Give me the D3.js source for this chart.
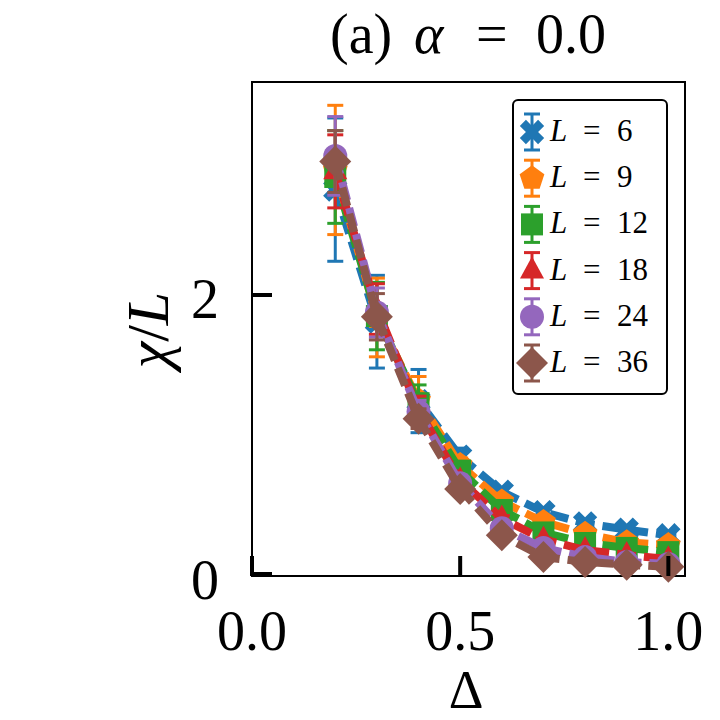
<!DOCTYPE html>
<html><head><meta charset="utf-8">
<script src="https://cdn.jsdelivr.net/npm/d3@7"></script>
<style>body{margin:0;background:#fff}svg{display:block}text{font-family:"Liberation Serif","DejaVu Serif",serif;fill:#000}</style>
</head><body><svg id="c" width="720" height="720"></svg>
<script>
const deltas = [0.2, 0.3, 0.4, 0.5, 0.6, 0.7, 0.8, 0.9, 1.0];
const sizes = [6, 9, 12, 18, 24, 36];
const chiL6  = [2.75, 1.81, 1.245, 0.85, 0.60, 0.455, 0.375, 0.33, 0.29];
const err6   = [0.51, 0.33, 0.225, 0.06, 0.03, 0.02, 0.015, 0.01, 0.01];
const chiL9  = [2.89, 1.84, 1.25, 0.79, 0.53, 0.385, 0.30, 0.24, 0.22];
const err9   = [0.46, 0.28, 0.17, 0.05, 0.03, 0.02, 0.01, 0.01, 0.01];
const chiL12 = [2.84, 1.85, 1.23, 0.75, 0.47, 0.31, 0.235, 0.20, 0.17];
const err12  = [0.33, 0.24, 0.13, 0.04, 0.02, 0.01, 0.01, 0.01, 0.01];
const chiL18 = [2.88, 1.90, 1.18, 0.68, 0.41, 0.26, 0.185, 0.15, 0.12];
const err18  = [0.26, 0.18, 0.10, 0.03, 0.02, 0.01, 0.01, 0.01, 0.01];
const chiL24 = [2.99, 1.875, 1.17, 0.66, 0.34, 0.20, 0.135, 0.10, 0.085];
const err24  = [0.28, 0.175, 0.08, 0.03, 0.015, 0.01, 0.01, 0.01, 0.01];
const chiL36 = [2.95, 1.845, 1.12, 0.62, 0.29, 0.135, 0.10, 0.08, 0.065];
const err36  = [0.22, 0.165, 0.07, 0.03, 0.015, 0.01, 0.01, 0.01, 0.01];
const xTicks = [0.0, 0.5, 1.0];
const xTickLabels = ["0.0", "0.5", "1.0"];
const yTicks = [0, 2];
const yTickLabels = ["0", "2"];
const colors = ["#1f77b4", "#ff7f0e", "#2ca02c", "#d62728", "#9467bd", "#8c564b"];
const markers = ["X", "pentagon", "square", "triangle", "circle", "diamond"];

const values = [chiL6, chiL9, chiL12, chiL18, chiL24, chiL36];
const errors = [err6, err9, err12, err18, err24, err36];
const series = sizes.map((L, i) => ({L, color: colors[i], marker: markers[i],
  pts: deltas.map((d, j) => ({x: d, y: values[i][j], e: errors[i][j]}))}));

const svg = d3.select("#c");
const L = 252, R = 685, T = 82, B = 576;
const x = d3.scaleLinear().domain([0, 1.04]).range([L, R]);
const y = d3.scaleLinear().domain([0, 3.516]).range([B, T]);

function markerPath(m) {
  if (m === "X") {
    const r = 4.3, p = d3.path();
    const pts = [[-3*r,-r],[-r,-r],[-r,-3*r],[r,-3*r],[r,-r],[3*r,-r],[3*r,r],[r,r],[r,3*r],[-r,3*r],[-r,r],[-3*r,r]];
    const c = Math.SQRT1_2;
    pts.forEach(([a,b],k) => { const X = (a-b)*c, Y = (a+b)*c; k ? p.lineTo(X,Y) : p.moveTo(X,Y); });
    p.closePath(); return p.toString();
  }
  if (m === "pentagon") {
    const r = 13, p = d3.path();
    for (let k = 0; k < 5; k++) { const a = -Math.PI/2 + k*2*Math.PI/5; const X = r*Math.cos(a), Y = r*Math.sin(a); k ? p.lineTo(X,Y) : p.moveTo(X,Y); }
    p.closePath(); return p.toString();
  }
  if (m === "square") return "M-11,-11H11V11H-11Z";
  if (m === "triangle") return "M0,-14L12,8H-12Z";
  if (m === "circle") { const p = d3.path(); p.arc(0,0,12,0,2*Math.PI); return p.toString(); }
  if (m === "diamond") return "M0,-16L16,0L0,16L-16,0Z";
}

// frame
svg.append("rect").attr("x", L).attr("y", T).attr("width", R-L).attr("height", B-T)
  .attr("fill", "none").attr("stroke", "#000").attr("stroke-width", 2);

const plot = svg.append("g");
const line = d3.line().x(d => x(d.x)).y(d => y(d.y));
series.forEach(s => {
  const g = plot.append("g");
  g.append("path").attr("d", line(s.pts)).attr("fill", "none").attr("stroke", s.color)
    .attr("stroke-width", 8).attr("stroke-dasharray", "19,8");
  s.pts.forEach(d => {
    g.append("line").attr("x1", x(d.x)).attr("x2", x(d.x)).attr("y1", y(d.y-d.e)).attr("y2", y(d.y+d.e))
      .attr("stroke", s.color).attr("stroke-width", 3);
    [d.y-d.e, d.y+d.e].forEach(v => g.append("line").attr("x1", x(d.x)-8).attr("x2", x(d.x)+8)
      .attr("y1", y(v)).attr("y2", y(v)).attr("stroke", s.color).attr("stroke-width", 3));
  });
  g.selectAll("path.m").data(s.pts).enter().append("path").attr("class", "m")
    .attr("d", markerPath(s.marker)).attr("transform", d => `translate(${x(d.x)},${y(d.y)})`)
    .attr("fill", s.color);
});

// ticks (inward)
xTicks.forEach((t, i) => {
  svg.append("line").attr("x1", x(t)).attr("x2", x(t)).attr("y1", B).attr("y2", B-20).attr("stroke", "#000").attr("stroke-width", 4);
  svg.append("text").attr("x", x(t)).attr("y", 650).attr("text-anchor", "middle").attr("font-size", 56).text(xTickLabels[i]);
});
yTicks.forEach((t, i) => {
  svg.append("line").attr("x1", L).attr("x2", L+20).attr("y1", y(t)-(t===0?2:0)).attr("y2", y(t)-(t===0?2:0)).attr("stroke", "#000").attr("stroke-width", 4);
  svg.append("text").attr("x", 219).attr("y", y(t)+23).attr("text-anchor", "end").attr("font-size", 56).text(yTickLabels[i]);
});

// axis labels
svg.append("text").attr("x", 466).attr("y", 708).attr("text-anchor", "middle").attr("font-size", 54).text("Δ");
const yl = svg.append("text").attr("transform", "translate(168,330) rotate(-90)").attr("text-anchor", "middle").attr("font-size", 60);
yl.append("tspan").attr("font-style", "italic").text("χ");
yl.append("tspan").text("/");
yl.append("tspan").attr("font-style", "italic").text("L");

// title
svg.append("text").attr("x", 330).attr("y", 53).attr("font-size", 56).text("(a)");
svg.append("text").attr("x", 414).attr("y", 53).attr("font-size", 56).attr("font-style", "italic").text("α");
svg.append("text").attr("x", 476).attr("y", 53).attr("font-size", 56).text("=");
svg.append("text").attr("x", 536).attr("y", 53).attr("font-size", 56).text("0.0");

// legend
const lg = svg.append("g");
lg.append("rect").attr("x", 513).attr("y", 100).attr("width", 154).attr("height", 294).attr("rx", 5)
  .attr("fill", "#fff").attr("fill-opacity", 0.8).attr("stroke", "#000").attr("stroke-width", 2);
series.forEach((s, i) => {
  const cy = 132 + i*46.2, cx = 532;
  lg.append("line").attr("x1", cx).attr("x2", cx).attr("y1", cy-18).attr("y2", cy+18).attr("stroke", s.color).attr("stroke-width", 3);
  [cy-18, cy+18].forEach(v => lg.append("line").attr("x1", cx-8).attr("x2", cx+8).attr("y1", v).attr("y2", v).attr("stroke", s.color).attr("stroke-width", 3));
  lg.append("path").attr("d", markerPath(s.marker)).attr("transform", `translate(${cx},${cy})`).attr("fill", s.color);
  lg.append("text").attr("x", 550).attr("y", cy+9).attr("font-size", 31).attr("font-style", "italic").text("L");
  lg.append("text").attr("x", 583).attr("y", cy+9).attr("font-size", 31).text("=");
  lg.append("text").attr("x", 617).attr("y", cy+9).attr("font-size", 31).text(String(s.L));
});
</script></body></html>
